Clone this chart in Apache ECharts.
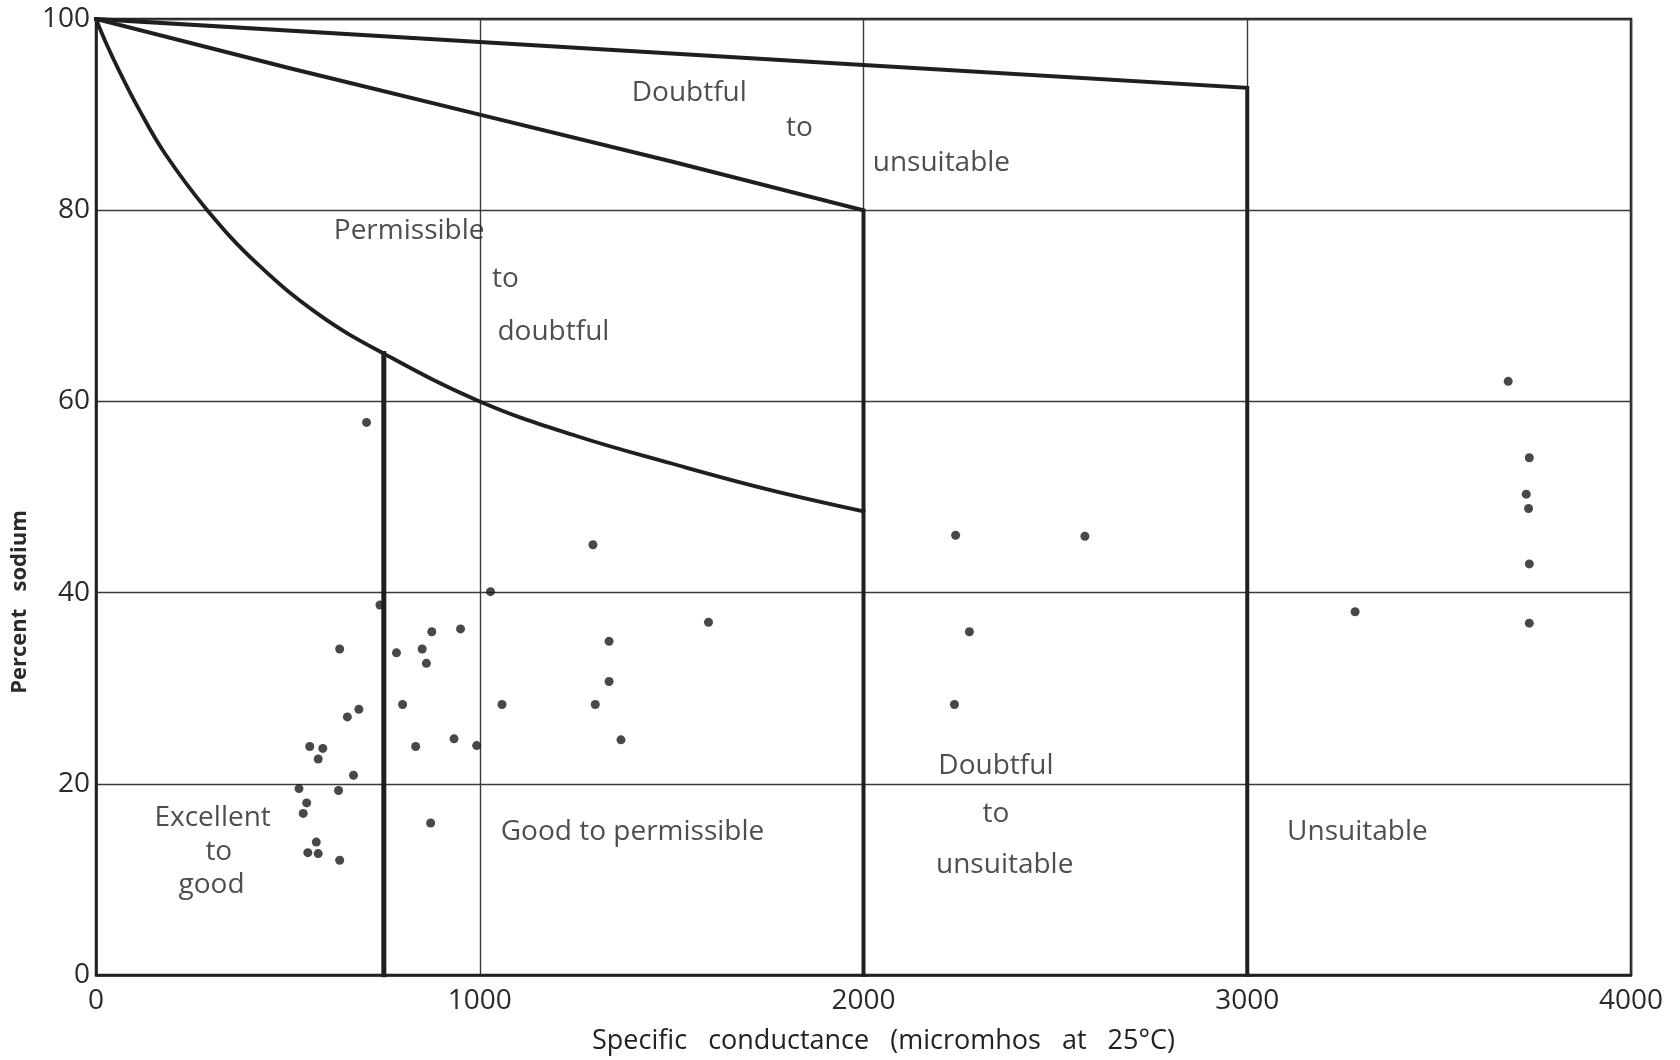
<!DOCTYPE html>
<html>
<head>
<meta charset="utf-8">
<script src="https://cdn.jsdelivr.net/npm/echarts@6/dist/echarts.min.js"></script>
<style>
html,body{margin:0;padding:0;background:#fff;}
#chart{width:1680px;height:1060px;}
</style>
</head>
<body>
<div id="chart"></div>
<script>
// ---- data ----
const xTicks = [0, 1000, 2000, 3000, 4000];
const yTicks = [0, 20, 40, 60, 80, 100];

// Boundary lines (specific conductance, percent sodium)
const upperBoundX = [0, 1000, 2000, 3000, 3000];
const upperBoundY = [100, 97.6, 95.2, 92.8, 0];
const middleBoundX = [0, 500, 1000, 1500, 2000, 2000];
const middleBoundY = [100, 94.9, 90, 85.1, 80, 0];
const lowerCurveX = [0, 25, 60, 110, 180, 290, 420, 580, 750, 1000, 1250, 1500, 1750, 2000];
const lowerCurveY = [100, 97.6, 94.6, 90.7, 85.9, 80, 74.4, 69.1, 65, 60, 56.4, 53.5, 50.8, 48.5];
const leftBoundX = [750, 750];
const leftBoundY = [65, 0];

// Samples
const sampleCond = [705, 1295, 1028, 740, 635, 783, 850, 861, 875, 950, 1337, 1596, 1337, 1301, 1058, 799, 655, 685, 671, 632, 833, 933, 992, 1368, 557, 591, 579, 529, 549, 540, 872, 574, 552, 579, 635, 2240, 2577, 2276, 2237, 3281, 3680, 3735, 3727, 3733, 3735, 3735];
const samplePct  = [57.8, 45, 40.1, 38.7, 34.1, 33.7, 34.1, 32.6, 35.9, 36.2, 34.9, 36.9, 30.7, 28.3, 28.3, 28.3, 27, 27.8, 20.9, 19.3, 23.9, 24.7, 24, 24.6, 23.9, 23.7, 22.6, 19.5, 18, 16.9, 15.9, 13.9, 12.8, 12.7, 12, 46, 45.9, 35.9, 28.3, 38, 62.1, 54.1, 50.3, 48.8, 43, 36.8];

// Region labels
const labelText = ['Doubtful', 'to', 'unsuitable', 'Permissible', 'to', 'doubtful', 'Excellent', 'to', 'good', 'Good to permissible', 'Doubtful', 'to', 'unsuitable', 'Unsuitable'];
const labelX    = [1546, 1833, 2203, 816, 1067, 1192, 304, 320, 301, 1398, 2345, 2345, 2368, 3287];
const labelY    = [92.3, 88.6, 84.9, 77.8, 72.8, 67.3, 16.4, 12.9, 9.4, 15, 21.9, 16.8, 11.5, 15];

const xName = 'Specific   conductance   (micromhos   at   25°C)';
const yName = 'Percent   sodium';

// ---- build ----
const zip = (xs, ys) => xs.map((x, i) => [x, ys[i]]);
const ink = '#1f1f1f';
const font = 'Open Sans';

const boundLine = (name, xs, ys, w, smooth) => ({
  name, type: 'line', data: zip(xs, ys), smooth: smooth || false,
  showSymbol: false, symbol: 'none', silent: true,
  lineStyle: { color: ink, width: w, cap: 'square', join: 'miter' },
  z: 3
});

const chart = echarts.init(document.getElementById('chart'), null, { renderer: 'canvas' });
chart.setOption({
  backgroundColor: '#ffffff',
  animation: false,
  grid: { left: 96, right: 49, top: 19, bottom: 85, show: true, borderColor: ink, borderWidth: 2.5, backgroundColor: 'transparent' },
  xAxis: {
    type: 'value', min: xTicks[0], max: xTicks[xTicks.length - 1], interval: 1000,
    name: xName, nameLocation: 'middle', nameGap: 53,
    nameTextStyle: { fontFamily: font, fontSize: 27, color: '#222', padding: [0, 0, 0, 40] },
    axisLine: { show: true, lineStyle: { color: ink, width: 2.5 } },
    axisTick: { show: false },
    axisLabel: { margin: 12, fontFamily: font, fontSize: 28, color: '#2a2a2a', formatter: v => String(v) },
    splitLine: { show: true, lineStyle: { color: '#3a3a3a', width: 1.4 } }
  },
  yAxis: {
    type: 'value', min: yTicks[0], max: yTicks[yTicks.length - 1], interval: 20,
    name: yName, nameLocation: 'middle', nameGap: 44, nameRotate: 90,
    nameTextStyle: { fontFamily: font, fontSize: 22, fontWeight: 'bold', color: '#2a2a2a', padding: [0, 210, 0, 0] },
    axisLine: { show: true, lineStyle: { color: ink, width: 2.5 } },
    axisTick: { show: false },
    axisLabel: { margin: 6, fontFamily: font, fontSize: 28, color: '#2a2a2a', formatter: v => String(v) },
    splitLine: { show: true, lineStyle: { color: '#3a3a3a', width: 1.4 } }
  },
  series: [
    boundLine('upper', upperBoundX, upperBoundY, 4),
    boundLine('middle', middleBoundX, middleBoundY, 4),
    boundLine('lower', lowerCurveX, lowerCurveY, 3.8, 0.4),
    boundLine('left', leftBoundX, leftBoundY, 5),
    {
      name: 'samples', type: 'scatter', data: zip(sampleCond, samplePct),
      symbol: 'circle', symbolSize: 9, itemStyle: { color: '#1a1a1a' }, z: 4
    },
    {
      name: 'regions', type: 'scatter', silent: true, symbolSize: 0,
      data: labelText.map((t, i) => ({ value: [labelX[i], labelY[i]], name: t })),
      label: {
        show: true, position: 'inside', formatter: p => p.name,
        fontFamily: font, fontSize: 28, color: '#222', align: 'center', verticalAlign: 'middle'
      },
      z: 5
    }
  ]
});
</script>
</body>
</html>
